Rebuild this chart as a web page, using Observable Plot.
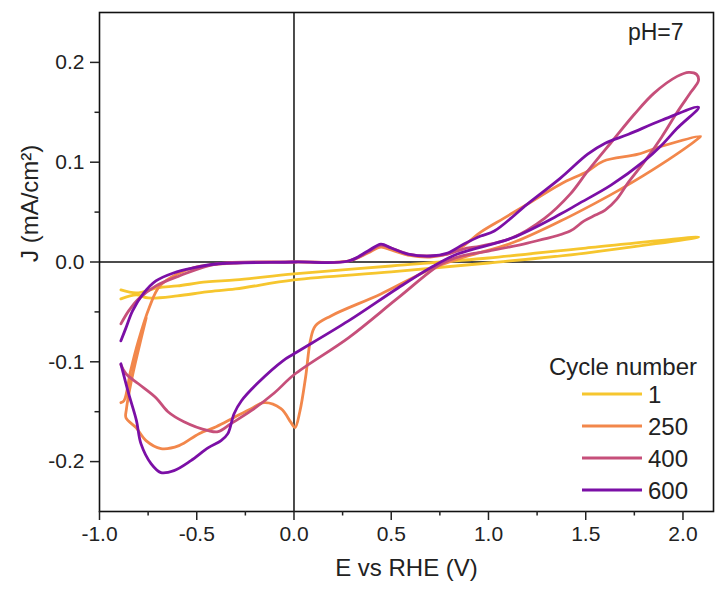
<!DOCTYPE html>
<html><head><meta charset="utf-8">
<script src="https://cdn.jsdelivr.net/npm/d3@7"></script>
<script src="https://cdn.jsdelivr.net/npm/@observablehq/plot@0.6"></script>
<style>
body{margin:0;background:#fff;}
#chart{position:relative;width:715px;height:589px;}
</style>
</head><body><div id="chart"></div>
<script>
const cycles = ["1", "250", "400", "600"];
const colors = ["#f6c62e", "#f2874b", "#c64f7a", "#7b0fa6"];

const e1 = [-0.89,-0.81,-0.7,-0.6,-0.45,-0.3,0,0.5,1.0,1.5,2.08,1.5,1.0,0.5,0,-0.3,-0.45,-0.6,-0.75,-0.81,-0.89];
const j1 = [-0.028,-0.031,-0.026,-0.024,-0.020,-0.018,-0.012,-0.004,0.004,0.014,0.025,0.009,-0.001,-0.010,-0.018,-0.027,-0.030,-0.034,-0.036,-0.033,-0.037];

const e250 = [-0.76,-0.80,-0.835,-0.862,-0.864,-0.812,-0.761,-0.684,-0.591,-0.488,-0.40,-0.31,-0.22,-0.154,-0.067,-0.015,0.005,0.03,0.06,0.085,0.11,0.19,0.447,0.704,0.86,1.12,1.37,1.54,1.68,1.89,2.08,2.09,1.89,1.77,1.59,1.51,1.37,1.2,1.08,0.96,0.87,0.79,0.7,0.586,0.5,0.447,0.38,0.28,0.0,-0.3,-0.5,-0.6,-0.69,-0.745,-0.8,-0.84,-0.874,-0.89];
const j250 = [-0.056,-0.088,-0.118,-0.148,-0.156,-0.166,-0.179,-0.187,-0.184,-0.172,-0.165,-0.156,-0.147,-0.141,-0.147,-0.161,-0.166,-0.150,-0.115,-0.078,-0.064,-0.054,-0.032,-0.007,0.004,0.019,0.041,0.058,0.073,0.098,0.124,0.126,0.116,0.108,0.101,0.091,0.078,0.058,0.044,0.030,0.016,0.008,0.005,0.007,0.012,0.015,0.009,0.001,0.0,-0.001,-0.005,-0.012,-0.024,-0.046,-0.079,-0.109,-0.139,-0.141];

const e400 = [-0.89,-0.864,-0.8,-0.71,-0.648,-0.566,-0.44,-0.39,-0.324,-0.22,-0.10,0.0,0.28,0.535,0.756,0.86,1.0,1.2,1.42,1.49,1.55,1.6,1.66,1.72,1.8,1.89,1.97,2.04,2.08,2.07,2.03,1.97,1.85,1.75,1.64,1.51,1.42,1.29,1.12,0.96,0.87,0.79,0.7,0.586,0.5,0.447,0.38,0.28,0.0,-0.4,-0.59,-0.71,-0.8,-0.85,-0.89];
const j400 = [-0.103,-0.112,-0.122,-0.136,-0.150,-0.160,-0.169,-0.170,-0.162,-0.149,-0.131,-0.113,-0.076,-0.036,-0.002,0.006,0.011,0.019,0.031,0.041,0.047,0.052,0.063,0.080,0.100,0.125,0.150,0.170,0.182,0.188,0.190,0.186,0.169,0.148,0.122,0.091,0.068,0.044,0.024,0.016,0.013,0.008,0.006,0.008,0.014,0.017,0.010,0.001,0.0,-0.002,-0.014,-0.024,-0.037,-0.049,-0.062];

const e600 = [-0.89,-0.85,-0.81,-0.787,-0.735,-0.684,-0.617,-0.53,-0.44,-0.375,-0.34,-0.308,-0.27,-0.185,-0.057,0.0,0.28,0.535,0.70,0.84,1.12,1.37,1.46,1.63,1.8,1.89,1.97,2.08,1.89,1.72,1.6,1.51,1.37,1.2,1.03,0.96,0.874,0.79,0.7,0.586,0.5,0.447,0.38,0.28,0.0,-0.4,-0.52,-0.62,-0.71,-0.776,-0.83,-0.864,-0.89];
const j600 = [-0.102,-0.132,-0.159,-0.182,-0.202,-0.211,-0.209,-0.199,-0.186,-0.179,-0.172,-0.152,-0.139,-0.121,-0.099,-0.092,-0.059,-0.026,-0.006,0.008,0.024,0.048,0.058,0.077,0.101,0.117,0.134,0.155,0.142,0.128,0.119,0.108,0.084,0.058,0.031,0.026,0.018,0.009,0.006,0.008,0.014,0.018,0.011,0.001,0.0,-0.002,-0.006,-0.011,-0.019,-0.032,-0.049,-0.066,-0.079];

const xTicks = [-1.0, -0.5, 0.0, 0.5, 1.0, 1.5, 2.0];
const xMinor = [-0.75, -0.25, 0.25, 0.75, 1.25, 1.75];
const yTicks = [-0.2, -0.1, 0.0, 0.1, 0.2];
const yMinor = [-0.15, -0.05, 0.05, 0.15];
const xLabel = "E vs RHE (V)";
const yLabel = "J (mA/cm²)";
const note = "pH=7";
const legendTitle = "Cycle number";

const series = [[e1, j1], [e250, j250], [e400, j400], [e600, j600]];
const rows = [];
series.forEach(([es, js], k) => es.forEach((e, i) => rows.push({cycle: cycles[k], E: e, J: js[i]})));

const fmt = d => d.toFixed(1);
const font = "'Liberation Sans', Arial, Helvetica, sans-serif";

const plot = Plot.plot({
  width: 715, height: 589,
  marginLeft: 99, marginRight: 2, marginTop: 12, marginBottom: 78,
  x: {domain: [-1, 2.157]},
  y: {domain: [-0.25, 0.25]},
  color: {domain: cycles, range: colors},
  style: {fontFamily: font, fontSize: "21px", color: "#222", background: "#fff"},
  marks: [
    Plot.ruleX([0], {stroke: "#111", strokeWidth: 1.5}),
    Plot.ruleY([0], {stroke: "#111", strokeWidth: 1.5}),
    Plot.line(rows, {x: "E", y: "J", z: "cycle", stroke: "cycle", strokeWidth: 2.8, curve: "catmull-rom"}),
    Plot.frame({stroke: "#111", strokeWidth: 1.6}),
    Plot.axisX({ticks: xTicks, tickSize: 9, tickPadding: 6, tickFormat: fmt, label: null, fontSize: 21, strokeWidth: 1.5}),
    Plot.axisX({ticks: xMinor, tickSize: 4.5, tickFormat: () => "", label: null, strokeWidth: 1.5}),
    Plot.axisY({ticks: yTicks, tickSize: 9, tickPadding: 6, tickFormat: fmt, label: null, fontSize: 21, strokeWidth: 1.5}),
    Plot.axisY({ticks: yMinor, tickSize: 4.5, tickFormat: () => "", label: null, strokeWidth: 1.5}),
    Plot.text([xLabel], {text: d => d, frameAnchor: "bottom", dy: 64, fontSize: 24, fill: "#222"}),
    Plot.text([yLabel], {text: d => d, frameAnchor: "left", dx: -69, rotate: -90, fontSize: 24, fill: "#222"}),
    Plot.text([note], {text: d => d, frameAnchor: "top-right", dx: -30, dy: 20, textAnchor: "end", lineAnchor: "middle", fontSize: 23, fill: "#222"})
  ]
});

// legend inside the plot area
const svg = d3.select(plot);
const lg = svg.append("g").attr("font-family", font).attr("fill", "#222");
lg.append("text").attr("x", 697).attr("y", 375).attr("text-anchor", "end").attr("font-size", 24).text(legendTitle);
cycles.forEach((c, i) => {
  const y = 394 + i * 32;
  lg.append("line").attr("x1", 582).attr("x2", 642).attr("y1", y).attr("y2", y)
    .attr("stroke", colors[i]).attr("stroke-width", 3);
  lg.append("text").attr("x", 648).attr("y", y).attr("dy", "0.36em")
    .attr("text-anchor", "start").attr("font-size", 24).text(c);
});

document.getElementById("chart").appendChild(plot);
</script>
</body></html>
